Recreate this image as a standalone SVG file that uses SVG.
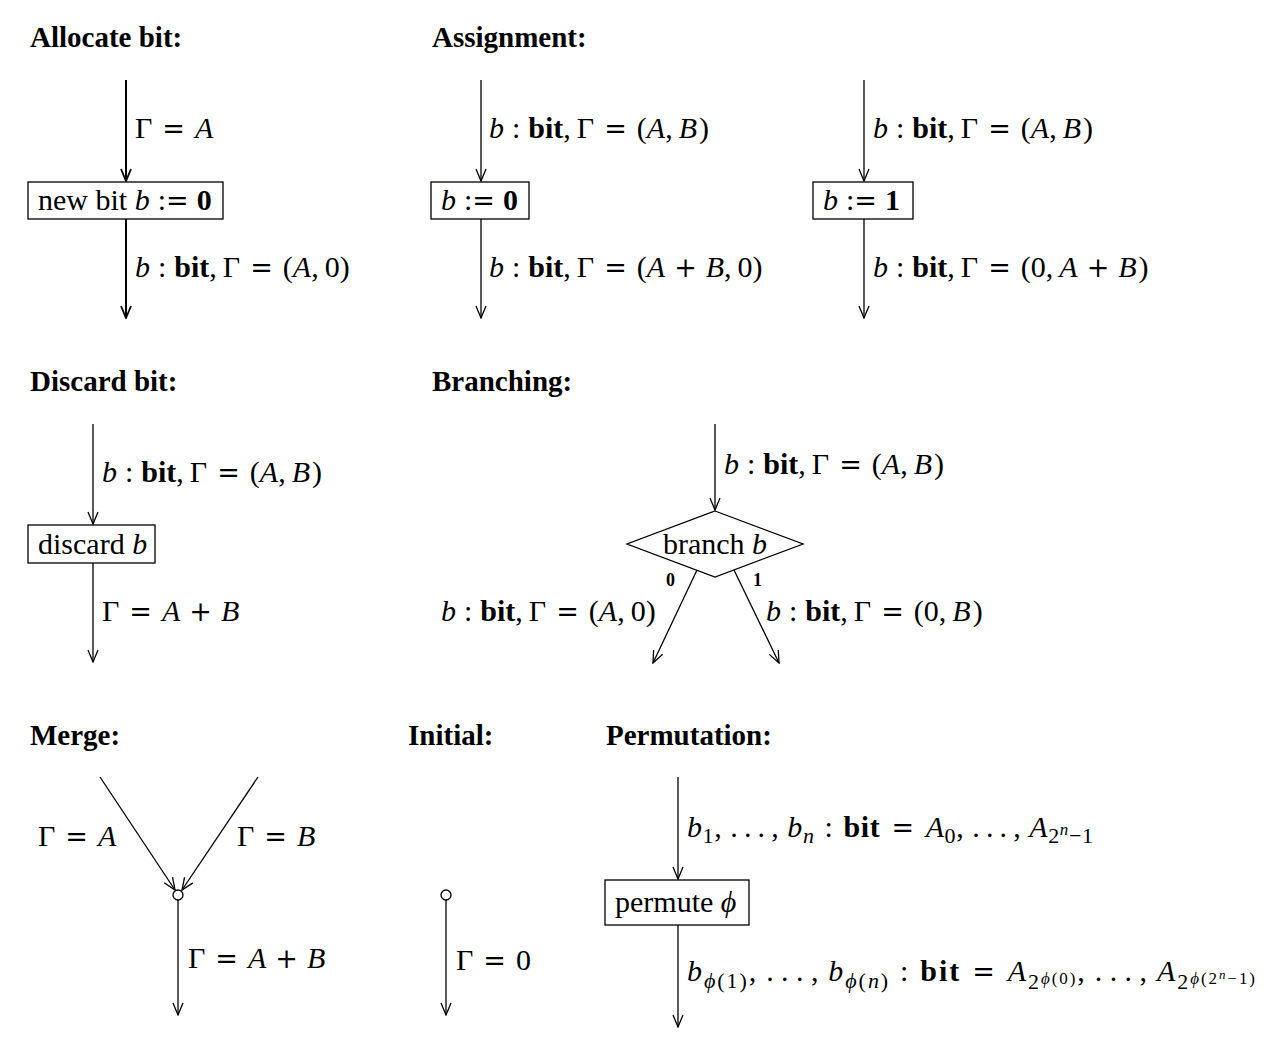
<svg xmlns="http://www.w3.org/2000/svg" width="1288" height="1042" viewBox="0 0 1288 1042">
<style>
text{font-family:"Liberation Serif","DejaVu Serif","Times New Roman",serif;fill:#000}
.t{font-size:29px;font-weight:bold}
.m{font-size:30px}
.it{font-style:italic}
.bf{font-weight:bold}
.op{font-family:"DejaVu Serif",serif;font-size:27px}
.s{font-size:22px}
.ss{font-size:17px}
.sss{font-size:13px}
.sm{font-size:18px;font-weight:bold}
.e{fill:none;stroke:#000;stroke-width:1.3}
.e2{fill:none;stroke:#000;stroke-width:2}
.box{fill:#fff;stroke:#000;stroke-width:1.3}
</style>
<defs>
<marker id="ah" viewBox="-13 -6 14 12" refX="0" refY="0" markerWidth="14" markerHeight="12" markerUnits="userSpaceOnUse" orient="auto">
<path d="M-12,-5 L0,0 L-12,5" fill="none" stroke="#000" stroke-width="1.3"/>
</marker>
<marker id="ah2" viewBox="-13 -6 14 12" refX="0" refY="0" markerWidth="14" markerHeight="12" markerUnits="userSpaceOnUse" orient="auto">
<path d="M-12,-5 L0,0 L-12,5" fill="none" stroke="#000" stroke-width="1.8"/>
</marker>
</defs>

<g id="titles">
<text class="t" x="30" y="47">Allocate bit:</text>
<text class="t" x="432" y="47">Assignment:</text>
<text class="t" x="30" y="391">Discard bit:</text>
<text class="t" x="432" y="391">Branching:</text>
<text class="t" x="30" y="745">Merge:</text>
<text class="t" x="408" y="745">Initial:</text>
<text class="t" x="606" y="745">Permutation:</text>
</g>

<g id="connectors">
<line class="e2" x1="126" y1="80" x2="126" y2="181" marker-end="url(#ah2)"/>
<line class="e2" x1="126" y1="219" x2="126" y2="318" marker-end="url(#ah2)"/>
<line class="e" x1="481" y1="80" x2="481" y2="181" marker-end="url(#ah)"/>
<line class="e" x1="481" y1="219" x2="481" y2="318" marker-end="url(#ah)"/>
<line class="e" x1="864" y1="80" x2="864" y2="181" marker-end="url(#ah)"/>
<line class="e" x1="864" y1="219" x2="864" y2="318" marker-end="url(#ah)"/>
<line class="e" x1="93" y1="424" x2="93" y2="524" marker-end="url(#ah)"/>
<line class="e" x1="93" y1="563" x2="93" y2="662" marker-end="url(#ah)"/>
<line class="e" x1="715" y1="424" x2="715" y2="510" marker-end="url(#ah)"/>
<line class="e" x1="697" y1="570" x2="653" y2="663" marker-end="url(#ah)"/>
<line class="e" x1="734" y1="570" x2="779" y2="663" marker-end="url(#ah)"/>
<line class="e" x1="100" y1="777" x2="175" y2="890" marker-end="url(#ah)"/>
<line class="e" x1="258" y1="777" x2="182" y2="890" marker-end="url(#ah)"/>
<line class="e" x1="178" y1="900" x2="178" y2="1015" marker-end="url(#ah)"/>
<line class="e" x1="446" y1="900" x2="446" y2="1015" marker-end="url(#ah)"/>
<line class="e" x1="678" y1="777" x2="678" y2="879" marker-end="url(#ah)"/>
<line class="e" x1="678" y1="925" x2="678" y2="1027" marker-end="url(#ah)"/>
</g>

<g id="edge-labels">
<text class="m" x="135" y="138">Γ<tspan class="op" dx="10">=</tspan><tspan class="it" dx="10">A</tspan></text>
<text class="m" x="135" y="277"><tspan class="it">b</tspan><tspan dx="8">:</tspan><tspan class="bf" dx="8">bit</tspan>,<tspan dx="6">Γ</tspan><tspan class="op" dx="10">=</tspan><tspan dx="10">(</tspan><tspan class="it">A</tspan>,<tspan dx="6">0</tspan>)</text>
<text class="m" x="489" y="138"><tspan class="it">b</tspan><tspan dx="8">:</tspan><tspan class="bf" dx="8">bit</tspan>,<tspan dx="6">Γ</tspan><tspan class="op" dx="10">=</tspan><tspan dx="10">(</tspan><tspan class="it">A</tspan>,<tspan class="it" dx="6">B</tspan><tspan dx="2">)</tspan></text>
<text class="m" x="489" y="277"><tspan class="it">b</tspan><tspan dx="8">:</tspan><tspan class="bf" dx="8">bit</tspan>,<tspan dx="6">Γ</tspan><tspan class="op" dx="10">=</tspan><tspan dx="10">(</tspan><tspan class="it">A</tspan><tspan class="op" dx="9">+</tspan><tspan class="it" dx="9">B</tspan>,<tspan dx="6">0</tspan>)</text>
<text class="m" x="873" y="138"><tspan class="it">b</tspan><tspan dx="8">:</tspan><tspan class="bf" dx="8">bit</tspan>,<tspan dx="6">Γ</tspan><tspan class="op" dx="10">=</tspan><tspan dx="10">(</tspan><tspan class="it">A</tspan>,<tspan class="it" dx="6">B</tspan><tspan dx="2">)</tspan></text>
<text class="m" x="873" y="277"><tspan class="it">b</tspan><tspan dx="8">:</tspan><tspan class="bf" dx="8">bit</tspan>,<tspan dx="6">Γ</tspan><tspan class="op" dx="10">=</tspan><tspan dx="10">(</tspan>0,<tspan class="it" dx="6">A</tspan><tspan class="op" dx="9">+</tspan><tspan class="it" dx="9">B</tspan><tspan dx="2">)</tspan></text>
<text class="m" x="102" y="482"><tspan class="it">b</tspan><tspan dx="8">:</tspan><tspan class="bf" dx="8">bit</tspan>,<tspan dx="6">Γ</tspan><tspan class="op" dx="10">=</tspan><tspan dx="10">(</tspan><tspan class="it">A</tspan>,<tspan class="it" dx="6">B</tspan><tspan dx="2">)</tspan></text>
<text class="m" x="102" y="621">Γ<tspan class="op" dx="10">=</tspan><tspan class="it" dx="10">A</tspan><tspan class="op" dx="9">+</tspan><tspan class="it" dx="9">B</tspan></text>
<text class="m" x="724" y="474"><tspan class="it">b</tspan><tspan dx="8">:</tspan><tspan class="bf" dx="8">bit</tspan>,<tspan dx="6">Γ</tspan><tspan class="op" dx="10">=</tspan><tspan dx="10">(</tspan><tspan class="it">A</tspan>,<tspan class="it" dx="6">B</tspan><tspan dx="2">)</tspan></text>
<text class="sm" x="666" y="586">0</text>
<text class="sm" x="753" y="586">1</text>
<text class="m" x="441" y="621"><tspan class="it">b</tspan><tspan dx="8">:</tspan><tspan class="bf" dx="8">bit</tspan>,<tspan dx="6">Γ</tspan><tspan class="op" dx="10">=</tspan><tspan dx="10">(</tspan><tspan class="it">A</tspan>,<tspan dx="6">0</tspan>)</text>
<text class="m" x="766" y="621"><tspan class="it">b</tspan><tspan dx="8">:</tspan><tspan class="bf" dx="8">bit</tspan>,<tspan dx="6">Γ</tspan><tspan class="op" dx="10">=</tspan><tspan dx="10">(</tspan>0,<tspan class="it" dx="6">B</tspan><tspan dx="2">)</tspan></text>
<text class="m" x="38" y="846">Γ<tspan class="op" dx="10">=</tspan><tspan class="it" dx="10">A</tspan></text>
<text class="m" x="237" y="846">Γ<tspan class="op" dx="10">=</tspan><tspan class="it" dx="10">B</tspan></text>
<text class="m" x="188" y="968">Γ<tspan class="op" dx="10">=</tspan><tspan class="it" dx="10">A</tspan><tspan class="op" dx="9">+</tspan><tspan class="it" dx="9">B</tspan></text>
<text class="m" x="456" y="970">Γ<tspan class="op" dx="10">=</tspan><tspan dx="10">0</tspan></text>
<text class="m" x="687" y="837" textLength="406" lengthAdjust="spacing"><tspan class="it">b</tspan><tspan class="s" dy="6">1</tspan><tspan dy="-6">,</tspan><tspan dx="8">.</tspan><tspan dx="5.5">.</tspan><tspan dx="5.5">.</tspan><tspan dx="5.5">,</tspan><tspan class="it" dx="8">b</tspan><tspan class="s it" dy="6">n</tspan><tspan dy="-6" dx="10">:</tspan><tspan class="bf" dx="10">bit</tspan><tspan class="op" dx="11">=</tspan><tspan class="it" dx="11">A</tspan><tspan class="s" dy="6">0</tspan><tspan dy="-6">,</tspan><tspan dx="8">.</tspan><tspan dx="5.5">.</tspan><tspan dx="5.5">.</tspan><tspan dx="5.5">,</tspan><tspan class="it" dx="8">A</tspan><tspan class="s" dy="6">2</tspan><tspan class="ss it" dy="-8">n</tspan><tspan class="s" dy="8">−1</tspan></text>
<text class="m" x="687" y="981" textLength="568" lengthAdjust="spacing"><tspan class="it">b</tspan><tspan class="s" dy="7"><tspan class="it">ϕ</tspan>(1)</tspan><tspan dy="-7">,</tspan><tspan dx="8">.</tspan><tspan dx="5.5">.</tspan><tspan dx="5.5">.</tspan><tspan dx="5.5">,</tspan><tspan class="it" dx="8">b</tspan><tspan class="s" dy="7"><tspan class="it">ϕ</tspan>(<tspan class="it">n</tspan>)</tspan><tspan dy="-7" dx="10">:</tspan><tspan class="bf" dx="10">bit</tspan><tspan class="op" dx="11">=</tspan><tspan class="it" dx="11">A</tspan><tspan class="s" dy="8">2</tspan><tspan class="ss" dy="-5"><tspan class="it">ϕ</tspan>(0)</tspan><tspan dy="-3">,</tspan><tspan dx="8">.</tspan><tspan dx="5.5">.</tspan><tspan dx="5.5">.</tspan><tspan dx="5.5">,</tspan><tspan class="it" dx="8">A</tspan><tspan class="s" dy="8">2</tspan><tspan class="ss" dy="-5"><tspan class="it">ϕ</tspan>(2</tspan><tspan class="sss it" dy="-5">n</tspan><tspan class="ss" dy="5">−1)</tspan></text>
</g>

<g id="n-alloc">
<rect class="box" x="28" y="182" width="195" height="37"/>
<text class="m" x="38" y="210">new bit <tspan class="it">b</tspan><tspan dx="8">:</tspan><tspan class="op">=</tspan><tspan class="bf" dx="8">0</tspan></text>
</g>
<g id="n-assign0">
<rect class="box" x="431" y="182" width="98" height="37"/>
<text class="m" x="441" y="210"><tspan class="it">b</tspan><tspan dx="8">:</tspan><tspan class="op">=</tspan><tspan class="bf" dx="8">0</tspan></text>
</g>
<g id="n-assign1">
<rect class="box" x="813" y="182" width="100" height="37"/>
<text class="m" x="823" y="210"><tspan class="it">b</tspan><tspan dx="8">:</tspan><tspan class="op">=</tspan><tspan class="bf" dx="8">1</tspan></text>
</g>
<g id="n-discard">
<rect class="box" x="28" y="525" width="127" height="38"/>
<text class="m" x="38" y="554">discard <tspan class="it">b</tspan></text>
</g>
<g id="n-branch">
<polygon class="box" points="715,511 803,544 715,577 627,544"/>
<text class="m" x="715" y="554" text-anchor="middle">branch <tspan class="it">b</tspan></text>
</g>
<g id="n-merge">
<circle class="box" cx="178" cy="895" r="5"/>
</g>
<g id="n-initial">
<circle class="box" cx="446" cy="895" r="5"/>
</g>
<g id="n-permute">
<rect class="box" x="605" y="880" width="144" height="45"/>
<text class="m" x="615" y="912">permute <tspan class="it">ϕ</tspan></text>
</g>
</svg>
